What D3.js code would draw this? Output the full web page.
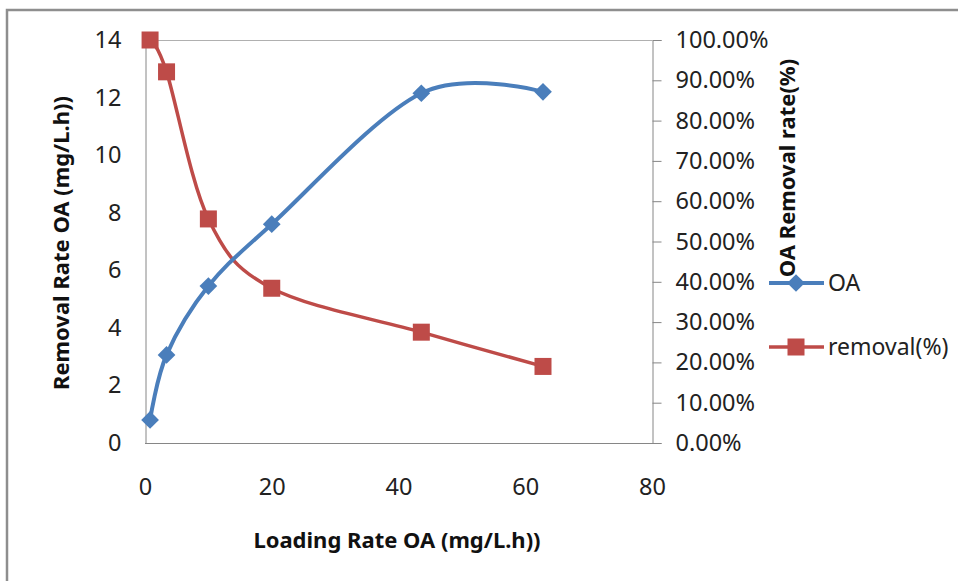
<!DOCTYPE html>
<html>
<head>
<meta charset="utf-8">
<script src="https://cdn.jsdelivr.net/npm/d3@7"></script>
<style>
  html, body { margin: 0; padding: 0; background: #fff; }
  svg { display: block; font-family: "Noto Sans", "Open Sans", sans-serif; }
</style>
</head>
<body>
<svg id="chart" width="958" height="581"></svg>
<script>
// Loading rate (x) shared by both series
const loadingRate = [0.8, 3.4, 10, 20, 43.6, 62.8];
// OA removal rate (mg/L.h), left axis
const oaRemoval = [0.8, 3.06, 5.45, 7.6, 12.15, 12.2];
// Removal efficiency (fraction), right axis
const removalPct = [1.0, 0.921, 0.556, 0.384, 0.275, 0.19];

const xTicks = [0, 20, 40, 60, 80];
const yLeftTicks = [0, 2, 4, 6, 8, 10, 12, 14];
const yRightTicks = [0, 0.1, 0.2, 0.3, 0.4, 0.5, 0.6, 0.7, 0.8, 0.9, 1.0];

const seriesNames = ["OA", "removal(%)"];
const blue = "#4a7ebb", red = "#be4b48", axisGrey = "#868686";

const svg = d3.select("#chart");

// outer chart frame
svg.append("rect")
  .attr("x", 7).attr("y", 10).attr("width", 980).attr("height", 600)
  .attr("fill", "none").attr("stroke", "#8e8e8e").attr("stroke-width", 2.5);

const plot = { left: 145, right: 652, top: 40, bottom: 443 };

const x = d3.scaleLinear().domain([0, 80]).range([plot.left, plot.right]);
const yL = d3.scaleLinear().domain([0, 14]).range([plot.bottom, plot.top]);
const yR = d3.scaleLinear().domain([0, 1]).range([plot.bottom, plot.top]);

// plot-area top edge
svg.append("line")
  .attr("x1", plot.left).attr("x2", plot.right)
  .attr("y1", plot.top + 0.5).attr("y2", plot.top + 0.5)
  .attr("stroke", "#b0b0b0").attr("stroke-width", 1);

// bottom axis
const gx = svg.append("g").attr("transform", `translate(0,${plot.bottom + 0.5})`)
  .call(d3.axisBottom(x).tickValues(xTicks).tickSize(0).tickPadding(35).tickFormat(d3.format("d")));
// left axis
const gyl = svg.append("g").attr("transform", `translate(${plot.left + 0.5},0)`)
  .call(d3.axisLeft(yL).tickValues(yLeftTicks).tickSize(0).tickPadding(24).tickFormat(d3.format("d")));
// right axis
const gyr = svg.append("g").attr("transform", `translate(${plot.right + 0.5},0)`)
  .call(d3.axisRight(yR).tickValues(yRightTicks).tickSize(9).tickPadding(14).tickFormat(d3.format(".2%")));

[gx, gyl, gyr].forEach(g => {
  g.select(".domain").attr("stroke", axisGrey).attr("stroke-width", 1);
  g.selectAll(".tick line").attr("stroke", axisGrey).attr("stroke-width", 1);
  g.selectAll(".tick text").attr("fill", "#222").attr("font-size", 23.5)
    .attr("font-family", "\"Noto Sans\", sans-serif");
});
gx.select(".domain").attr("d", `M${plot.left},0H${plot.right + 9}`);

// series
const oaData = loadingRate.map((v, i) => [v, oaRemoval[i]]);
const remData = loadingRate.map((v, i) => [v, removalPct[i]]);

const lineOA = d3.line().x(d => x(d[0])).y(d => yL(d[1])).curve(d3.curveCardinal.tension(0));
const lineRem = d3.line().x(d => x(d[0])).y(d => yR(d[1])).curve(d3.curveCardinal.tension(0));

svg.append("path").datum(remData).attr("d", lineRem)
  .attr("fill", "none").attr("stroke", red).attr("stroke-width", 3.5);
svg.append("path").datum(oaData).attr("d", lineOA)
  .attr("fill", "none").attr("stroke", blue).attr("stroke-width", 4);

const diamond = d3.symbol().type(d3.symbolDiamond2).size(200);
svg.selectAll(".oa-pt").data(oaData).enter().append("path")
  .attr("class", "oa-pt").attr("d", diamond)
  .attr("transform", d => `translate(${x(d[0])},${yL(d[1])})`)
  .attr("fill", blue);

const sq = 17;
svg.selectAll(".rem-pt").data(remData).enter().append("rect")
  .attr("class", "rem-pt")
  .attr("x", d => x(d[0]) - sq / 2).attr("y", d => yR(d[1]) - sq / 2)
  .attr("width", sq).attr("height", sq).attr("fill", red);

// axis titles
const titleSize = 22;
svg.append("text").attr("x", 397).attr("y", 548).attr("text-anchor", "middle")
  .attr("font-size", titleSize).attr("font-weight", "bold").attr("fill", "#111")
  .text("Loading Rate OA (mg/L.h))");
svg.append("text").attr("transform", "translate(69,243) rotate(-90)").attr("text-anchor", "middle")
  .attr("font-size", titleSize).attr("font-weight", "bold").attr("fill", "#111")
  .text("Removal Rate OA (mg/L.h))");
svg.append("text").attr("transform", "translate(795,168) rotate(-90)").attr("text-anchor", "middle")
  .attr("font-size", titleSize).attr("font-weight", "bold").attr("fill", "#111")
  .text("OA Removal rate(%)");

// legend
const legend = svg.append("g");
const legY = [283, 347];
[0, 1].forEach(i => {
  const c = i === 0 ? blue : red;
  legend.append("line").attr("x1", 769).attr("x2", 824).attr("y1", legY[i]).attr("y2", legY[i])
    .attr("stroke", c).attr("stroke-width", i === 0 ? 4 : 3.5);
  if (i === 0) {
    legend.append("path").attr("d", diamond).attr("transform", `translate(796,${legY[i]})`).attr("fill", c);
  } else {
    legend.append("rect").attr("x", 796 - sq / 2).attr("y", legY[i] - sq / 2)
      .attr("width", sq).attr("height", sq).attr("fill", c);
  }
  legend.append("text").attr("x", 828).attr("y", legY[i]).attr("dy", "0.35em")
    .attr("font-size", 23).attr("fill", "#222").text(seriesNames[i]);
});
</script>
</body>
</html>
